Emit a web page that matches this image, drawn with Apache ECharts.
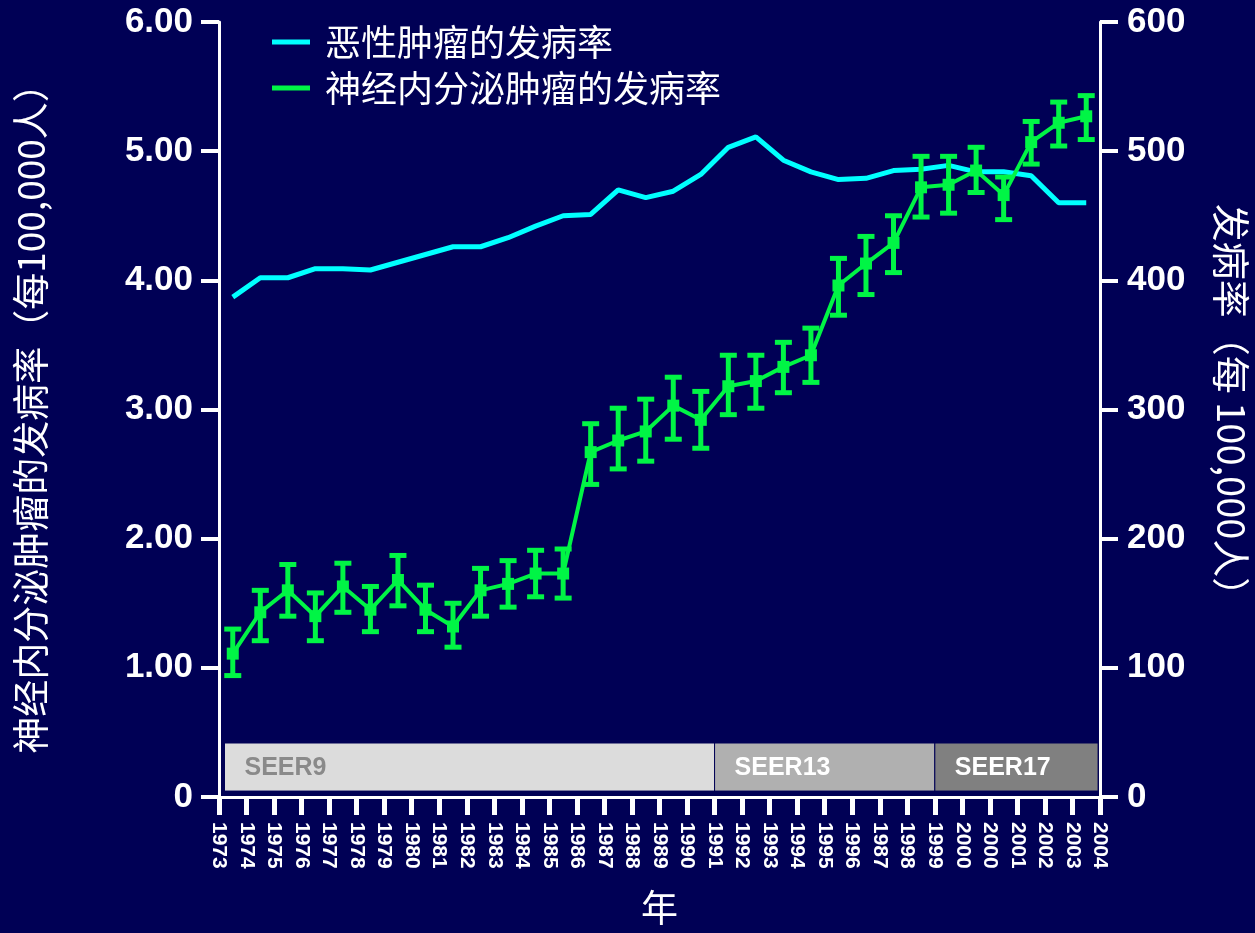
<!DOCTYPE html>
<html>
<head>
<meta charset="utf-8">
<script src="https://cdn.jsdelivr.net/npm/echarts@6/dist/echarts.min.js"></script>
<style>
  html, body { margin: 0; padding: 0; background: #000055; }
  #chart { width: 1255px; height: 933px; }
</style>
</head>
<body>
<div id="chart"></div>
<script>
// Year labels under each tick (as printed on the axis)
const yearLabels = ['1973','1974','1975','1976','1977','1978','1979','1980','1981','1982','1983','1984',
  '1985','1986','1987','1988','1989','1990','1991','1992','1993','1994','1995','1996','1987','1998',
  '1999','2000','2000','2001','2002','2003','2004'];

// Malignant tumour incidence (per 100,000), right axis
const malignantRate = [387,402,402,409,409,408,414,420,426,426,433,442,450,451,470,464,
  469,482,503,511,493,484,478,479,485,486,489,484,484,481,460,460];

// Neuroendocrine tumour incidence (per 100,000), left axis, with error limits
const netRate = [1.11,1.43,1.60,1.40,1.63,1.45,1.68,1.45,1.32,1.60,1.65,1.73,1.73,2.67,2.76,2.83,
  3.03,2.92,3.18,3.22,3.33,3.42,3.96,4.13,4.29,4.72,4.74,4.85,4.66,5.07,5.22,5.27];
const netUpper = [1.30,1.60,1.80,1.58,1.81,1.63,1.87,1.64,1.50,1.77,1.83,1.91,1.92,2.89,3.01,3.08,
  3.25,3.14,3.42,3.42,3.52,3.63,4.17,4.34,4.50,4.96,4.96,5.03,4.80,5.23,5.38,5.43];
const netLower = [0.94,1.21,1.40,1.21,1.43,1.28,1.48,1.28,1.16,1.40,1.47,1.55,1.54,2.42,2.54,2.60,
  2.77,2.70,2.96,3.01,3.13,3.21,3.73,3.89,4.06,4.49,4.52,4.68,4.47,4.90,5.04,5.09];

// SEER registry periods (in tick-index units along the year axis)
const seerNames = ['SEER9', 'SEER13', 'SEER17'];
const seerFrom = [0.2, 18, 26];
const seerTo = [18, 26, 31.93];

const seriesNames = ['恶性肿瘤的发病率', '神经内分泌肿瘤的发病率'];

// ---- styling ----
const BG = '#000055';
const CYAN = '#00FFFF';
const GREEN = '#00F545';
const NUM_FONT = 'Liberation Sans, Arial, sans-serif';
const CJK_FONT = '"Noto Sans CJK SC", sans-serif';
const seerFill = ['#DCDCDC', '#B0B0B0', '#808080'];
const seerText = ['#8A8A8A', '#FFFFFF', '#FFFFFF'];

// each year's point sits in the middle between two ticks
const mid = i => i + 0.5;

const cyanData = malignantRate.map((v, i) => [mid(i), v]);
const greenData = netRate.map((v, i) => [mid(i), v]);
const errData = netRate.map((v, i) => [mid(i), netLower[i], netUpper[i]]);
const bandData = seerNames.map((n, i) => [seerFrom[i], seerTo[i], i]);

const chart = echarts.init(document.getElementById('chart'), null, { renderer: 'canvas' });

const axisWhite = { lineStyle: { color: '#FFFFFF', width: 3 } };

chart.setOption({
  backgroundColor: BG,
  animation: false,
  grid: { left: 219, right: 155, top: 22, bottom: 136, containLabel: false, outerBoundsMode: 'none' },
  legend: {
    data: seriesNames,
    orient: 'vertical',
    left: 272,
    top: 22,
    padding: 0,
    itemWidth: 38,
    itemHeight: 5,
    itemGap: 6,
    icon: 'rect',
    textStyle: { color: '#FFFFFF', fontFamily: CJK_FONT, fontSize: 36, lineHeight: 40, padding: [0, 0, 0, 10] }
  },
  xAxis: {
    type: 'value',
    min: 0,
    max: 32,
    interval: 1,
    name: '年',
    nameLocation: 'middle',
    nameGap: 92,
    nameTextStyle: { color: '#FFFFFF', fontFamily: CJK_FONT, fontSize: 37 },
    axisLine: { onZero: false, ...axisWhite },
    axisTick: { show: true, length: 18, lineStyle: { color: '#FFFFFF', width: 5 } },
    axisLabel: {
      rotate: -90,
      margin: 25,
      color: '#FFFFFF',
      fontFamily: NUM_FONT,
      fontWeight: 'bold',
      fontSize: 21,
      showMinLabel: true,
      showMaxLabel: true,
      formatter: v => yearLabels[Math.round(v)] || ''
    },
    splitLine: { show: false }
  },
  yAxis: [
    {
      type: 'value',
      position: 'left',
      min: 0,
      max: 6,
      interval: 1,
      name: '神经内分泌肿瘤的发病率（每100,000人）',
      nameLocation: 'middle',
      nameGap: 170,
      nameTextStyle: { color: '#FFFFFF', fontFamily: CJK_FONT, fontSize: 37 },
      axisLine: { show: true, onZero: false, ...axisWhite },
      axisTick: { show: true, length: 18, lineStyle: { color: '#FFFFFF', width: 4 } },
      axisLabel: {
        margin: 26,
        color: '#FFFFFF',
        fontFamily: NUM_FONT,
        fontWeight: 'bold',
        fontSize: 35,
        formatter: v => (v === 0 ? '0' : v.toFixed(2))
      },
      splitLine: { show: false }
    },
    {
      type: 'value',
      position: 'right',
      min: 0,
      max: 600,
      interval: 100,
      name: '发病率（每 100,000人）',
      nameLocation: 'middle',
      nameRotate: -90,
      nameGap: 112,
      nameTextStyle: { color: '#FFFFFF', fontFamily: CJK_FONT, fontSize: 38 },
      axisLine: { show: true, onZero: false, ...axisWhite },
      axisTick: { show: true, length: 18, lineStyle: { color: '#FFFFFF', width: 4 } },
      axisLabel: {
        margin: 27,
        color: '#FFFFFF',
        fontFamily: NUM_FONT,
        fontWeight: 'bold',
        fontSize: 35
      },
      splitLine: { show: false }
    }
  ],
  series: [
    {
      // registry period bands along the bottom
      type: 'custom',
      name: 'seer',
      yAxisIndex: 0,
      silent: true,
      z: 1,
      data: bandData,
      renderItem: (params, api) => {
        const i = api.value(2);
        const p0 = api.coord([api.value(0), 0.418]);
        const p1 = api.coord([api.value(1), 0.046]);
        return {
          type: 'group',
          children: [
            {
              type: 'rect',
              shape: { x: p0[0], y: p0[1], width: p1[0] - p0[0], height: p1[1] - p0[1] },
              style: { fill: seerFill[i], stroke: BG, lineWidth: 1 }
            },
            {
              type: 'text',
              style: {
                text: seerNames[i],
                x: p0[0] + 20,
                y: (p0[1] + p1[1]) / 2 + 1,
                verticalAlign: 'middle',
                fill: seerText[i],
                font: 'bold 25px ' + NUM_FONT
              }
            }
          ]
        };
      }
    },
    {
      type: 'line',
      name: seriesNames[0],
      yAxisIndex: 1,
      data: cyanData,
      showSymbol: false,
      symbol: 'none',
      z: 3,
      lineStyle: { color: CYAN, width: 5 },
      itemStyle: { color: CYAN }
    },
    {
      // error bars for the neuroendocrine series
      type: 'custom',
      name: 'err',
      yAxisIndex: 0,
      silent: true,
      z: 4,
      data: errData,
      renderItem: (params, api) => {
        const x = api.value(0);
        const top = api.coord([x, api.value(2)]);
        const bot = api.coord([x, api.value(1)]);
        const hw = 8.5;
        const st = { stroke: GREEN, lineWidth: 5, lineCap: 'butt' };
        return {
          type: 'group',
          children: [
            { type: 'line', shape: { x1: top[0], y1: top[1], x2: bot[0], y2: bot[1] }, style: st },
            { type: 'line', shape: { x1: top[0] - hw, y1: top[1], x2: top[0] + hw, y2: top[1] }, style: st },
            { type: 'line', shape: { x1: bot[0] - hw, y1: bot[1], x2: bot[0] + hw, y2: bot[1] }, style: st }
          ]
        };
      }
    },
    {
      type: 'line',
      name: seriesNames[1],
      yAxisIndex: 0,
      data: greenData,
      symbol: 'rect',
      symbolSize: 12,
      showSymbol: true,
      z: 5,
      lineStyle: { color: GREEN, width: 4 },
      itemStyle: { color: GREEN }
    }
  ]
});
</script>
</body>
</html>
